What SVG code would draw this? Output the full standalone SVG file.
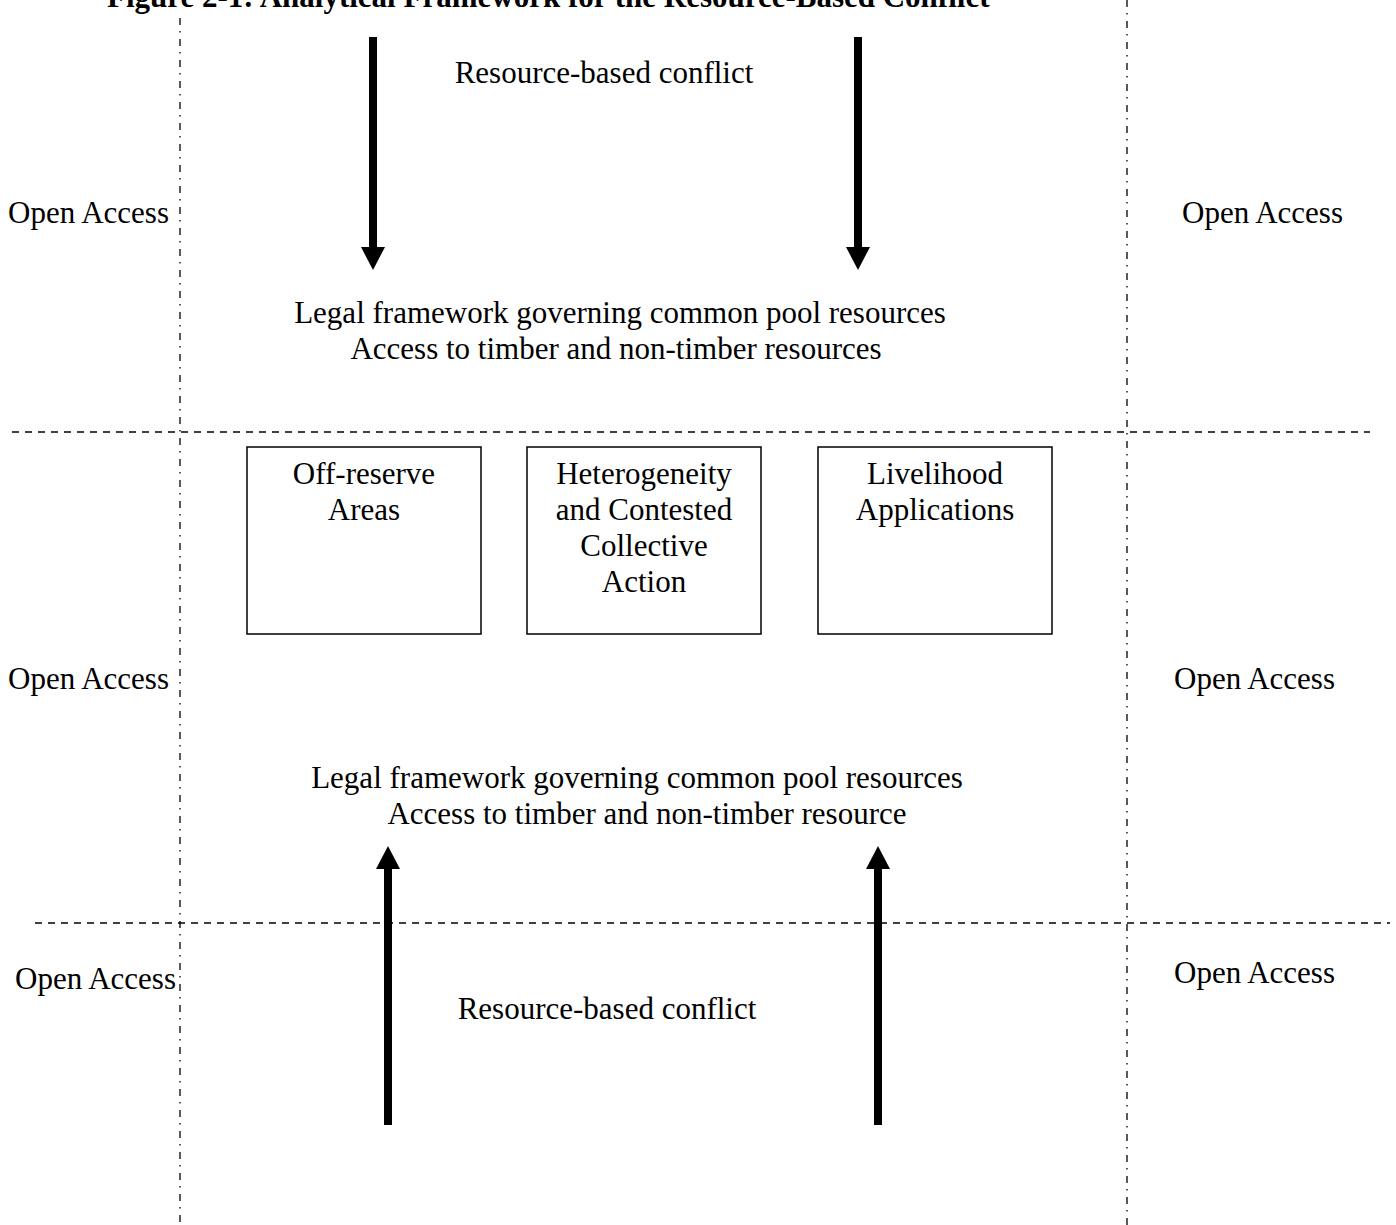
<svg xmlns="http://www.w3.org/2000/svg" width="1396" height="1225" viewBox="0 0 1396 1225">
  <style>
    text { font-family: "Liberation Serif", "Times New Roman", serif; font-size: 31px; fill: #000; }
    .title { font-weight: bold; }
    .mid { text-anchor: middle; }
    .box { fill: #fff; stroke: #000; stroke-width: 1.5; }
    .vline { stroke: #000; stroke-width: 1.3; stroke-dasharray: 7 6 1.5 6.5; fill: none; }
    .hline { stroke: #000; stroke-width: 1.3; stroke-dasharray: 7 6; fill: none; }
    .arrow { stroke: #000; stroke-width: 8; fill: none; marker-end: url(#head); }
  </style>
  <defs>
    <marker id="head" viewBox="0 0 23 24" markerWidth="23" markerHeight="24" refX="3" refY="12" orient="auto" markerUnits="userSpaceOnUse">
      <path d="M0,0 L23,12 L0,24 z" fill="#000"/>
    </marker>
  </defs>
  <rect width="1396" height="1225" fill="#fff"/>

  <text id="title" class="title" x="107" y="7">Figure 2-1: Analytical Framework for the Resource-Based Conflict</text>

  <!-- zone boundaries -->
  <g id="boundaries">
    <line class="vline" x1="180" y1="18" x2="180" y2="1225"/>
    <line class="vline" x1="1127" y1="0" x2="1127" y2="1225"/>
    <line class="hline" x1="12" y1="432" x2="1370" y2="432"/>
    <line class="hline" x1="35" y1="923" x2="1390" y2="923"/>
  </g>

  <!-- open access labels -->
  <g id="open-access">
    <text x="8" y="223">Open Access</text>
    <text x="1182" y="223">Open Access</text>
    <text x="8" y="689">Open Access</text>
    <text x="1174" y="689">Open Access</text>
    <text x="15" y="989">Open Access</text>
    <text x="1174" y="983">Open Access</text>
  </g>

  <g id="conflict-top">
    <text class="mid" x="604" y="83">Resource-based conflict</text>
  </g>

  <g id="legal-top">
    <text class="mid" x="620" y="323">Legal framework governing common pool resources</text>
    <text class="mid" x="616" y="359">Access to timber and non-timber resources</text>
  </g>

  <g id="off-reserve">
    <rect class="box" x="247" y="447" width="234" height="187"/>
    <text class="mid" x="364" y="484">Off-reserve</text>
    <text class="mid" x="364" y="520">Areas</text>
  </g>

  <g id="heterogeneity">
    <rect class="box" x="527" y="447" width="234" height="187"/>
    <text class="mid" x="644" y="484">Heterogeneity</text>
    <text class="mid" x="644" y="520">and Contested</text>
    <text class="mid" x="644" y="556">Collective</text>
    <text class="mid" x="644" y="592">Action</text>
  </g>

  <g id="livelihood">
    <rect class="box" x="818" y="447" width="234" height="187"/>
    <text class="mid" x="935" y="484">Livelihood</text>
    <text class="mid" x="935" y="520">Applications</text>
  </g>

  <g id="legal-bottom">
    <text class="mid" x="637" y="788">Legal framework governing common pool resources</text>
    <text class="mid" x="647" y="824">Access to timber and non-timber resource</text>
  </g>

  <g id="conflict-bottom">
    <text class="mid" x="607" y="1019">Resource-based conflict</text>
  </g>

  <!-- connectors -->
  <g id="connectors">
    <line class="arrow" x1="373" y1="37" x2="373" y2="250"/>
    <line class="arrow" x1="858" y1="37" x2="858" y2="250"/>
    <line class="arrow" x1="388" y1="1125" x2="388" y2="866"/>
    <line class="arrow" x1="878" y1="1125" x2="878" y2="866"/>
  </g>
</svg>
